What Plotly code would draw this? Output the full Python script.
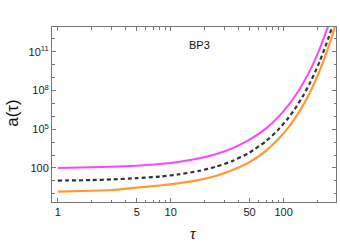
import plotly.graph_objects as go

# tau sample points (shared by the three curves) and a(tau)
tau = [1, 2, 3, 5, 8, 12, 18, 25, 35, 50, 70, 90, 110, 130, 150, 170, 190, 210, 230, 250, 270, 290]
a_magenta = [1.00e2, 1.12e2, 1.23e2, 1.51e2, 2.04e2, 3.09e2, 5.75e2, 1.17e3, 3.31e3, 1.55e4, 1.17e5,
             9.12e5, 7.08e6, 5.50e7, 4.17e8, 3.24e9, 2.51e10, 2.00e11, 1.58e12, 1.26e13, 1.0e14, 8.0e14]
a_dashed = [1.05e1, 1.15e1, 1.29e1, 1.62e1, 2.14e1, 3.24e1, 6.03e1, 1.23e2, 3.39e2, 1.58e3, 1.23e4,
            9.55e4, 7.41e5, 5.75e6, 4.47e7, 3.47e8, 2.69e9, 2.09e10, 1.62e11, 1.26e12, 9.77e12, 7.6e13]
a_orange = [1.48, 1.70, 1.95, 3.02, 4.37, 6.76, 1.20e1, 2.40e1, 6.61e1, 2.88e2, 2.24e3,
            1.74e4, 1.35e5, 1.05e6, 8.13e6, 6.31e7, 5.01e8, 3.98e9, 3.16e10, 2.51e11, 2.0e12, 1.58e13]

x_tickvals = [1, 5, 10, 50, 100]
x_ticktext = ["1", "5", "10", "50", "100"]
x_minor = [2, 3, 4, 6, 7, 8, 9, 20, 30, 40, 60, 70, 80, 90, 200]
y_tickvals = [1e2, 1e5, 1e8, 1e11]
y_ticktext = ["100", "10<sup>5</sup>", "10<sup>8</sup>", "10<sup>11</sup>"]
y_minor = [1, 1e1, 1e3, 1e4, 1e6, 1e7, 1e9, 1e10, 1e12]

fig = go.Figure()
fig.add_trace(go.Scatter(x=tau, y=a_orange, mode="lines",
                         line=dict(color="#FF9933", width=2.2, shape="spline", smoothing=0.6)))
fig.add_trace(go.Scatter(x=tau, y=a_magenta, mode="lines",
                         line=dict(color="#FF44FF", width=2, shape="spline", smoothing=0.6)))
fig.add_trace(go.Scatter(x=tau, y=a_dashed, mode="lines",
                         line=dict(color="#333333", width=2.2, dash="4px,3px", shape="spline", smoothing=0.6)))

axis_common = dict(
    showgrid=False, zeroline=False, showline=True, linecolor="#777777", linewidth=1,
    mirror="ticks", ticks="inside", tickcolor="#777777", tickwidth=1, ticklen=4,
    automargin=False,
    tickfont=dict(family="Liberation Sans, Arial", size=11, color="#222222"),
)

fig.update_layout(
    width=340, height=245,
    margin=dict(l=51.5, r=4.3, t=26.7, b=43.3),
    paper_bgcolor="white", plot_bgcolor="white",
    showlegend=False,
    xaxis=dict(type="log", range=[-0.051, 2.464], tickmode="array",
               tickvals=x_tickvals, ticktext=x_ticktext,
               minor=dict(tickmode="array", tickvals=x_minor, ticks="inside", ticklen=2.5,
                          tickcolor="#777777", tickwidth=1, showgrid=False),
               **axis_common),
    yaxis=dict(type="log", range=[-0.64, 12.93], tickmode="array",
               tickvals=y_tickvals, ticktext=y_ticktext,
               minor=dict(tickmode="array", tickvals=y_minor, ticks="inside", ticklen=2.5,
                          tickcolor="#777777", tickwidth=1, showgrid=False),
               **axis_common),
    annotations=[
        dict(text="BP3", x=0.52, y=0.895, xref="paper", yref="paper", showarrow=False,
             xanchor="center", yanchor="middle",
             font=dict(family="Liberation Sans, Arial", size=11, color="#111")),
        dict(text="<i>τ</i>", x=193, y=233, xref="paper", yref="paper", showarrow=False,
             xanchor="center", yanchor="middle",
             font=dict(family="Liberation Serif, Times New Roman", size=16, color="#111")),
        dict(text="a(τ)", x=12, y=113, xref="paper", yref="paper", showarrow=False, textangle=-90,
             xanchor="center", yanchor="middle",
             font=dict(family="Liberation Sans, Arial", size=17, color="#111")),
    ],
)

# convert pixel positions of the axis-title annotations to paper coordinates
pl, pr, pt, pb = 51.5, 340 - 4.3, 26.7, 245 - 43.3
for ann in fig.layout.annotations[1:]:
    ann.x = (ann.x - pl) / (pr - pl)
    ann.y = (pb - ann.y) / (pb - pt)

fig.write_html("out.html", config={"displayModeBar": False},
               post_script="document.body.style.margin='0px';")
